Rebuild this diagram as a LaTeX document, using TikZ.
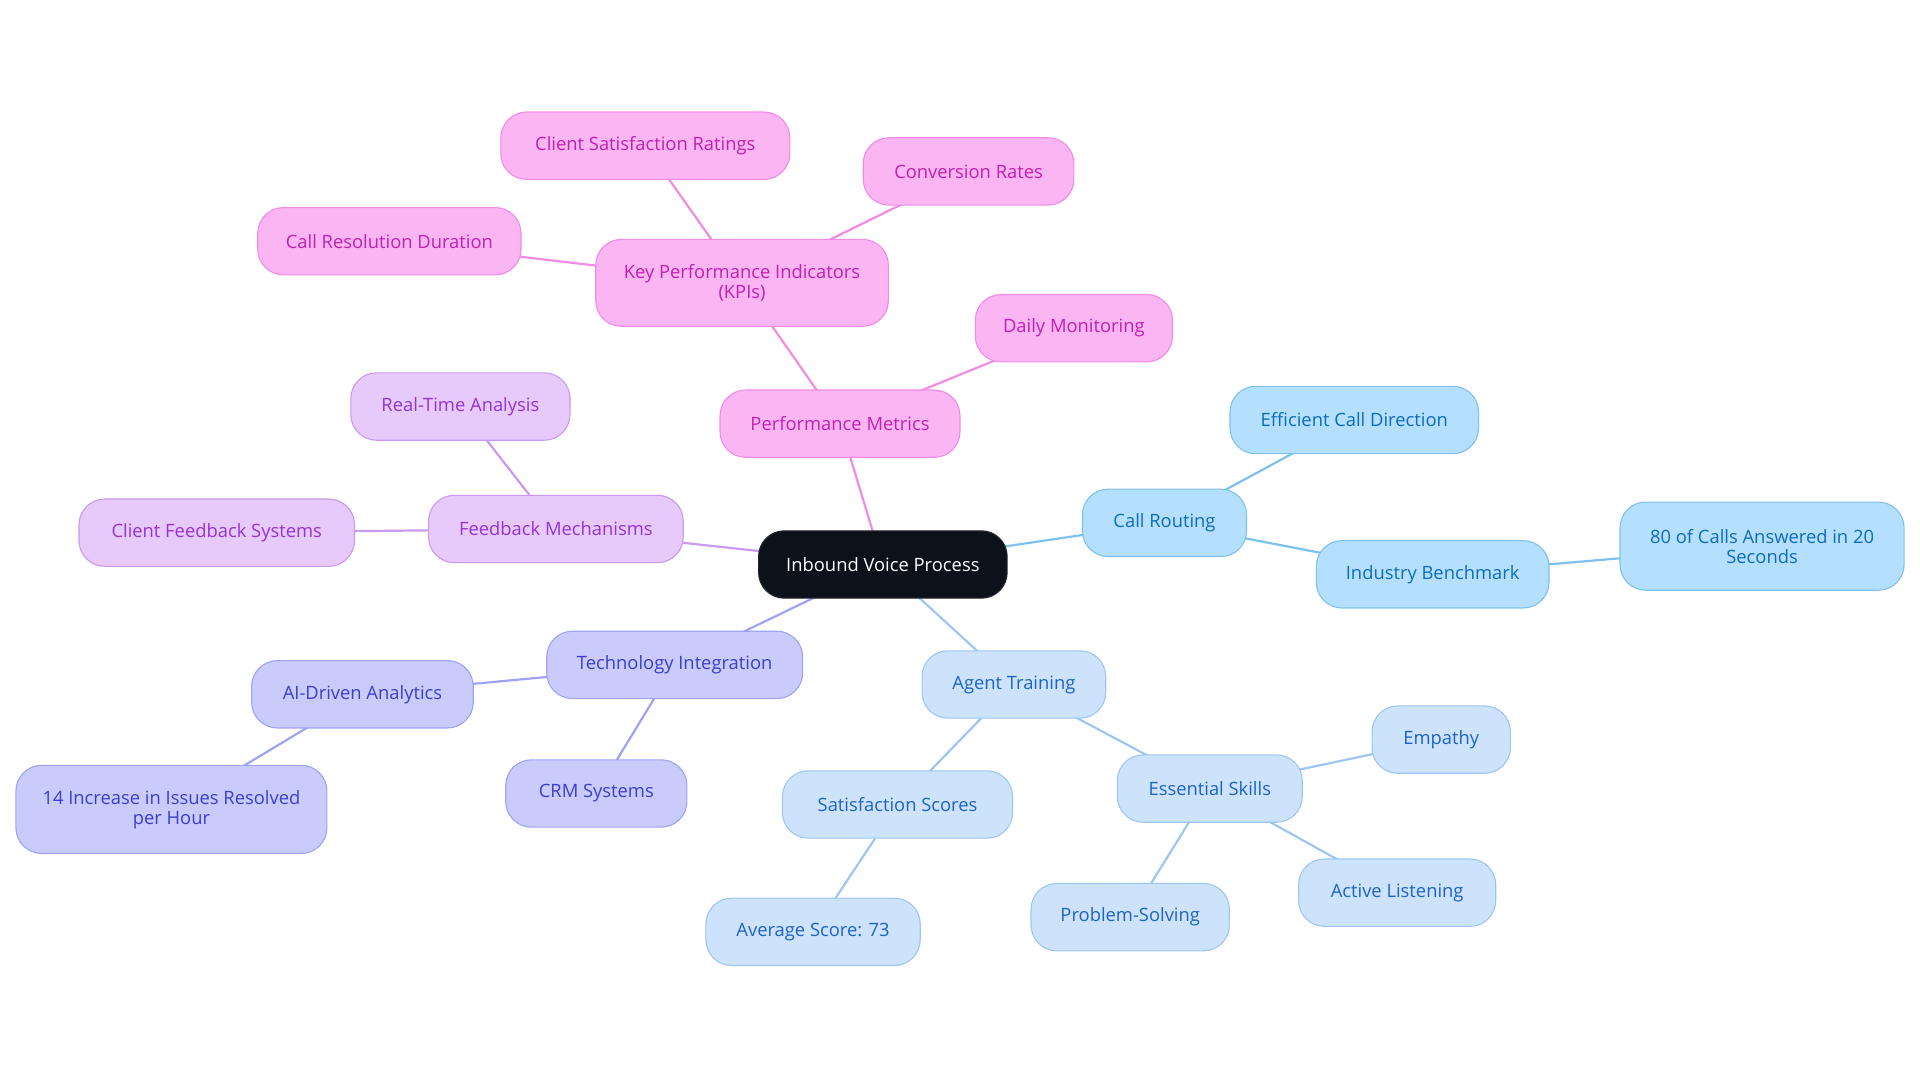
\documentclass[tikz,border=0pt]{standalone}
\usepackage{fontspec}
\setmainfont{Open Sans}
\usetikzlibrary{backgrounds}
\definecolor{rootfill}{HTML}{0C111A}
\definecolor{pinkfill}{HTML}{FBB5F3}
\definecolor{pinkline}{HTML}{F08CE4}
\definecolor{pinktext}{HTML}{C41FB0}
\definecolor{purpfill}{HTML}{E7C9FB}
\definecolor{purpline}{HTML}{C89AF0}
\definecolor{purptext}{HTML}{9333D8}
\definecolor{indfill}{HTML}{C9CBFB}
\definecolor{indline}{HTML}{9FA3F3}
\definecolor{indtext}{HTML}{3B3ED0}
\definecolor{ltfill}{HTML}{CDE3FB}
\definecolor{ltline}{HTML}{9FC6F3}
\definecolor{lttext}{HTML}{1E63C9}
\definecolor{skyfill}{HTML}{B4E0FD}
\definecolor{skyline}{HTML}{7EC1F0}
\definecolor{skytext}{HTML}{0D6CC0}
\begin{document}
\begin{tikzpicture}[x=1pt,y=-1pt,
  box/.style={rounded corners=21pt, draw, line width=0.9pt, minimum height=55pt,
    inner sep=0pt, align=center, font=\fontsize{15}{16.3}\selectfont},
  rootbox/.style={box, fill=rootfill, draw=rootfill!80!gray, text=white},
  pinkbox/.style={box, fill=pinkfill, draw=pinkline, text=pinktext},
  purpbox/.style={box, fill=purpfill, draw=purpline, text=purptext},
  indbox/.style={box, fill=indfill, draw=indline, text=indtext},
  ltbox/.style={box, fill=ltfill, draw=ltline, text=lttext},
  skybox/.style={box, fill=skyfill, draw=skyline, text=skytext},
  pinkedge/.style={draw=pinkline, line width=1.8pt},
  purpedge/.style={draw=purpline, line width=1.8pt},
  indedge/.style={draw=indline, line width=1.8pt},
  ltedge/.style={draw=ltline, line width=1.8pt},
  skyedge/.style={draw=skyline, line width=1.8pt}]
\useasboundingbox (0,0) rectangle (1568,884.5);
% root
\node[rootbox, minimum width=203pt] (root) at (721,461) {Inbound Voice Process};
% pink
\node[pinkbox, minimum width=196pt] (pm) at (686,346) {Performance Metrics};
\node[pinkbox, minimum width=239pt, minimum height=71pt] (kpi) at (606,231) {Key Performance Indicators\\(KPIs)};
\node[pinkbox, minimum width=161pt] (dm) at (877,268) {Daily Monitoring};
\node[pinkbox, minimum width=236pt] (csr) at (527,119) {Client Satisfaction Ratings};
\node[pinkbox, minimum width=172pt] (cr) at (791,140) {Conversion Rates};
\node[pinkbox, minimum width=215pt] (crd) at (318,197) {Call Resolution Duration};
% purple
\node[purpbox, minimum width=208pt] (fm) at (454,432) {Feedback Mechanisms};
\node[purpbox, minimum width=179pt] (rta) at (376,332) {Real-Time Analysis};
\node[purpbox, minimum width=225pt] (cfs) at (177,435) {Client Feedback Systems};
% indigo
\node[indbox, minimum width=209pt] (ti) at (551,543) {Technology Integration};
\node[indbox, minimum width=181pt] (aia) at (296,567) {AI-Driven Analytics};
\node[indbox, minimum width=254pt, minimum height=72pt] (inc) at (140,661) {14 Increase in Issues Resolved\\per Hour};
\node[indbox, minimum width=148pt] (crm) at (487,648) {CRM Systems};
% light blue
\node[ltbox, minimum width=150pt] (at) at (828,559) {Agent Training};
\node[ltbox, minimum width=188pt] (ss) at (733,657) {Satisfaction Scores};
\node[ltbox, minimum width=175pt] (avg) at (664,761) {Average Score: 73};
\node[ltbox, minimum width=151pt] (es) at (988,644) {Essential Skills};
\node[ltbox, minimum width=113pt] (emp) at (1177,604) {Empathy};
\node[ltbox, minimum width=162pt] (ps) at (923,749) {Problem-Solving};
\node[ltbox, minimum width=161pt] (al) at (1141,729) {Active Listening};
% sky
\node[skybox, minimum width=134pt] (rt) at (951,427) {Call Routing};
\node[skybox, minimum width=203pt] (ecd) at (1106,343) {Efficient Call Direction};
\node[skybox, minimum width=190pt] (ib) at (1170,469) {Industry Benchmark};
\node[skybox, minimum width=232pt, minimum height=72pt] (eighty) at (1439,446) {80 of Calls Answered in 20\\Seconds};
\begin{pgfonlayer}{background}
\draw[pinkedge] (root.center) -- (pm.center);
\draw[pinkedge] (pm.center) -- (kpi.center);
\draw[pinkedge] (pm.center) -- (dm.center);
\draw[pinkedge] (kpi.center) -- (csr.center);
\draw[pinkedge] (kpi.center) -- (cr.center);
\draw[pinkedge] (kpi.center) -- (crd.center);
\draw[purpedge] (root.center) -- (fm.center);
\draw[purpedge] (fm.center) -- (rta.center);
\draw[purpedge] (fm.center) -- (cfs.center);
\draw[indedge] (root.center) -- (ti.center);
\draw[indedge] (ti.center) -- (aia.center);
\draw[indedge] (aia.center) -- (inc.center);
\draw[indedge] (ti.center) -- (crm.center);
\draw[ltedge] (root.center) -- (at.center);
\draw[ltedge] (at.center) -- (ss.center);
\draw[ltedge] (ss.center) -- (avg.center);
\draw[ltedge] (at.center) -- (es.center);
\draw[ltedge] (es.center) -- (emp.center);
\draw[ltedge] (es.center) -- (ps.center);
\draw[ltedge] (es.center) -- (al.center);
\draw[skyedge] (root.center) -- (rt.center);
\draw[skyedge] (rt.center) -- (ecd.center);
\draw[skyedge] (rt.center) -- (ib.center);
\draw[skyedge] (ib.center) -- (eighty.center);
\end{pgfonlayer}
\end{tikzpicture}
\end{document}
